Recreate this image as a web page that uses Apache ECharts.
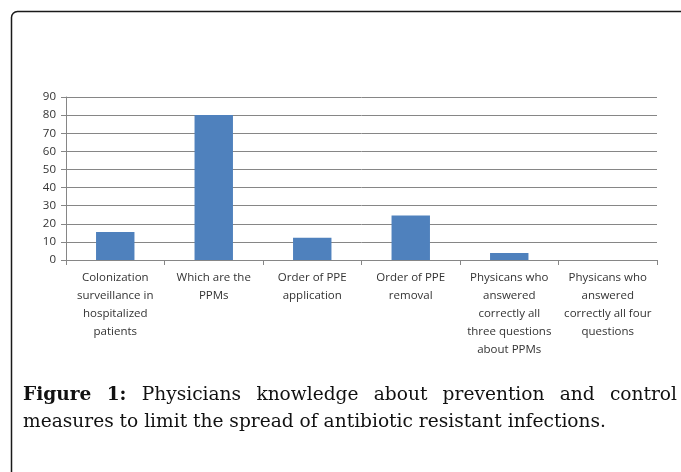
<!DOCTYPE html>
<html>
<head>
<meta charset="utf-8">
<script src="https://cdn.jsdelivr.net/npm/echarts@6/dist/echarts.min.js"></script>
<style>
html,body{margin:0;padding:0;background:#fff;}
#c{width:681px;height:472px;}
</style>
</head>
<body>
<div id="c"></div>
<script>
// ---- data ----
var categories = [
  "Colonization\nsurveillance in\nhospitalized\npatients",
  "Which are the\nPPMs",
  "Order of PPE\napplication",
  "Order of PPE\nremoval",
  "Physicans who\nanswered\ncorrectly all\nthree questions\nabout PPMs",
  "Physicans who\nanswered\ncorrectly all four\nquestions"
];
var values = [15.4, 80, 12.3, 24.6, 3.9, 0];
var yTicks = [0, 10, 20, 30, 40, 50, 60, 70, 80, 90];
var captionBold = "Figure 1:";
var captionLine1 = "Physicians knowledge about prevention and control";
var captionLine2 = "measures to limit the spread of antibiotic resistant infections.";

// ---- caption layout (justified first line) ----
var capFont = '"DejaVu Serif", serif';
var capX0 = 23, capX1 = 677, line2Width = 582;
var cv = document.createElement('canvas').getContext('2d');
function w(t, bold, size){ cv.font = (bold ? 'bold ' : '') + size + 'px ' + capFont; return cv.measureText(t).width; }
var capSize = Math.round(20 * line2Width / w(captionLine2, false, 20) * 10) / 10;
var words = captionBold.split(' ').map(function(t){return {t:t,b:true};})
  .concat(captionLine1.split(' ').map(function(t){return {t:t,b:false};}));
var total = 0; words.forEach(function(o){ o.w = w(o.t, o.b, capSize); total += o.w; });
var gap = (capX1 - capX0 - total) / (words.length - 1);
var graphics = [];
var cx = capX0;
words.forEach(function(o){
  graphics.push({type:'text', left:cx, top:386, style:{text:o.t, font:(o.b?'bold ':'')+capSize+'px '+capFont, fill:'#111'}});
  cx += o.w + gap;
});
graphics.push({type:'text', left:capX0, top:413, style:{text:captionLine2, font:capSize+'px '+capFont, fill:'#111'}});
graphics.push({type:'rect', shape:{x:11.5, y:11.5, width:720, height:520, r:[6,0,0,0]}, style:{fill:'none', stroke:'#1a1a1a', lineWidth:1.5}, z:-1});

var chart = echarts.init(document.getElementById('c'), null, {renderer:'canvas'});
chart.setOption({
  animation:false,
  backgroundColor:'#fff',
  graphic: graphics,
  grid:{left:66, right:24, top:97, bottom:212, containLabel:false},
  xAxis:{
    type:'category',
    data:categories,
    axisLine:{lineStyle:{color:'#868686', width:1}},
    axisTick:{show:true, length:5, lineStyle:{color:'#868686'}},
    axisLabel:{interval:0, color:'#333', fontFamily:'"Open Sans", sans-serif', fontSize:11.5, lineHeight:18, margin:9}
  },
  yAxis:{
    type:'value', min:yTicks[0], max:yTicks[yTicks.length-1], interval:10,
    axisLine:{show:true, lineStyle:{color:'#868686'}},
    axisTick:{show:true, length:5, lineStyle:{color:'#868686'}},
    axisLabel:{color:'#333', fontFamily:'"Open Sans", sans-serif', fontSize:11.5, margin:10},
    splitLine:{show:true, lineStyle:{color:'#868686', width:1}}
  },
  series:[{
    type:'bar', data:values, barWidth:'39%',
    itemStyle:{color:'#4F81BD'}
  }]
});
</script>
</body>
</html>
